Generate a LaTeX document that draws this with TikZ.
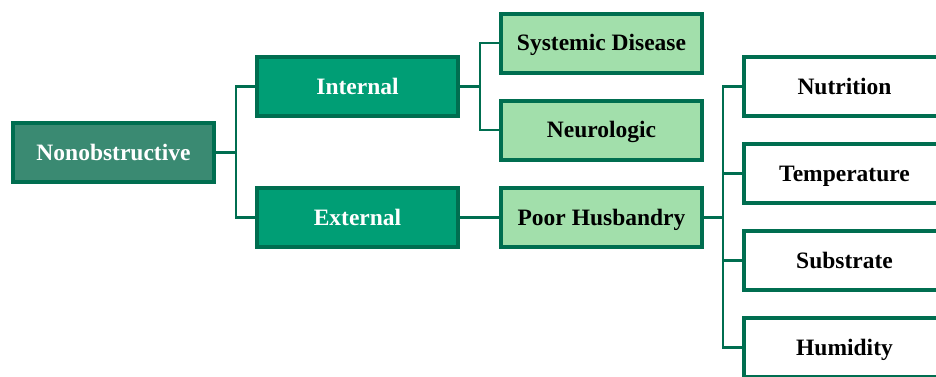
\documentclass[tikz,border=0pt]{standalone}
\usepackage{fontspec}
\setmainfont{Liberation Serif}
\usetikzlibrary{positioning}
\definecolor{edgegreen}{HTML}{006E50}
\definecolor{rootfill}{HTML}{3A8A72}
\definecolor{midfill}{HTML}{009E75}
\definecolor{leaffill}{HTML}{A2DFAB}

\begin{document}
\begin{tikzpicture}[
    x=1pt, y=-1pt,
    box/.style={
        draw=edgegreen,
        line width=4pt,      % thick dark border
        minimum width=201pt,
        minimum height=59pt,
        inner sep=0pt,
        text height=15.5pt,  % same baseline in every box
        text depth=0pt,
        font=\fontsize{23.5}{28}\selectfont\bfseries
    },
    rootbox/.style={box, fill=rootfill, text=white},
    midbox/.style={box, fill=midfill, text=white},
    leafbox/.style={box, fill=leaffill, text=black},
    endbox/.style={box, fill=white, text=black},
    link/.style={draw=edgegreen, line width=2.5pt}
]
\clip (0,0) rectangle (936,376);
\useasboundingbox (0,0) rectangle (936,376);

% first level
\node[rootbox] (nonobs) at (113.5,152.5) {Nonobstructive};
\node[midbox]  (internal) at (357.5,86.5) {Internal};
\node[midbox]  (external) at (357.5,217.5) {External};

% second level
\node[leafbox] (systemic) at (601.5,43) {Systemic Disease};
\node[leafbox, below=24pt of systemic] (neuro) {Neurologic};
\node[leafbox] (husbandry) at (601.5,217.5) {Poor Husbandry};

% husbandry factors
\node[endbox] (nutrition) at (844.5,86.5) {Nutrition};
\node[endbox, below=24pt of nutrition] (temp) {Temperature};
\node[endbox, below=24pt of temp] (substrate) {Substrate};
\node[endbox, below=24pt of substrate] (humidity) {Humidity};

% connectors
\draw[link] (nonobs.east) -- ++(20,0) |- (internal.west);
\draw[link] (nonobs.east) -- ++(20,0) |- (external.west);
\draw[link] (internal.east) -- ++(20,0) |- (systemic.west);
\draw[link] (internal.east) -- ++(20,0) |- (neuro.west);
\draw[link] (external.east) -- (husbandry.west);
\foreach \f in {nutrition,temp,substrate,humidity}
    \draw[link] (husbandry.east) -- ++(19,0) |- (\f.west);
\end{tikzpicture}
\end{document}
